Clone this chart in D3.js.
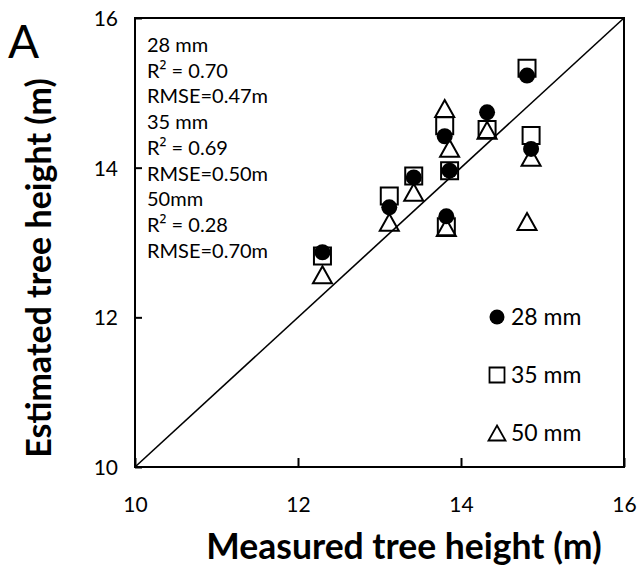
<!DOCTYPE html>
<html>
<head>
<meta charset="utf-8">
<script src="https://cdn.jsdelivr.net/npm/d3@7"></script>
<style>
  html, body { margin: 0; padding: 0; background: #fff; }
  svg { display: block; }
  text { font-family: Lato, "Open Sans", sans-serif; fill: #000; }
</style>
</head>
<body>
<svg id="chart" width="643" height="567"></svg>
<script>
// Measured tree height per tree (m)
const measured = [12.30, 13.12, 13.42, 13.80, 13.86, 13.82, 14.32, 14.81, 14.86];
// Estimated heights for each focal length (m)
const est28 = [12.87, 13.47, 13.87, 14.42, 13.96, 13.35, 14.74, 15.23, 14.25];
const est35 = [12.82, 13.62, 13.89, 14.56, 13.96, 13.21, 14.51, 15.33, 14.43];
const est50 = [12.57, 13.27, 13.67, 14.79, 14.26, 13.20, 14.50, 13.28, 14.14];
const seriesNames = ["28 mm", "35 mm", "50 mm"];
const tickValues = [10, 12, 14, 16];
const statLines = ["28 mm", "R² = 0.70", "RMSE=0.47m", "35 mm", "R² = 0.69", "RMSE=0.50m", "50mm", "R² = 0.28", "RMSE=0.70m"];

const svg = d3.select("#chart");
const x = d3.scaleLinear().domain([10, 16]).range([135, 624]);
const y = d3.scaleLinear().domain([10, 16]).range([467, 18]);

// marker shapes centred on their bounding box
function squarePath(s) { const h = s / 2; return `M${-h},${-h}H${h}V${h}H${-h}Z`; }
function trianglePath(w, h) { return `M0,${-h / 2}L${w / 2},${h / 2}L${-w / 2},${h / 2}Z`; }

// axes with inward ticks
const xAxis = svg.append("g").attr("transform", `translate(0,${y(10)})`)
  .call(d3.axisBottom(x).tickValues(tickValues).tickSizeInner(-9).tickSizeOuter(0).tickPadding(30).tickFormat(d3.format("d")));
const yAxis = svg.append("g").attr("transform", `translate(${x(10)},0)`)
  .call(d3.axisLeft(y).tickValues(tickValues).tickSizeInner(-7).tickSizeOuter(0).tickPadding(17).tickFormat(d3.format("d")));
[xAxis, yAxis].forEach(g => {
  g.select(".domain").remove();
  g.selectAll(".tick line").attr("stroke", "#000").attr("stroke-width", 2);
  g.selectAll(".tick text").attr("font-size", 21).attr("font-family", "Lato, sans-serif").attr("fill", "#000");
});
yAxis.selectAll(".tick text").attr("dy", "0.35em");

// plot frame
svg.append("rect")
  .attr("x", x(10)).attr("y", y(16))
  .attr("width", x(16) - x(10)).attr("height", y(10) - y(16))
  .attr("fill", "none").attr("stroke", "#000").attr("stroke-width", 2);

// 1:1 line
svg.append("line")
  .attr("x1", x(10)).attr("y1", y(10)).attr("x2", x(16)).attr("y2", y(16))
  .attr("stroke", "#000").attr("stroke-width", 1.6);

const pts = (vals) => vals.map((v, i) => ({ mx: measured[i], ev: v }));

// 50 mm triangles
svg.append("g").selectAll("path").data(pts(est50)).join("path")
  .attr("d", trianglePath(19, 17))
  .attr("transform", d => `translate(${x(d.mx)},${y(d.ev)})`)
  .attr("fill", "none").attr("stroke", "#000").attr("stroke-width", 2);

// 35 mm squares
svg.append("g").selectAll("path").data(pts(est35)).join("path")
  .attr("d", squarePath(17))
  .attr("transform", d => `translate(${x(d.mx)},${y(d.ev)})`)
  .attr("fill", "none").attr("stroke", "#000").attr("stroke-width", 2);

// 28 mm filled circles
svg.append("g").selectAll("circle").data(pts(est28)).join("circle")
  .attr("cx", d => x(d.mx)).attr("cy", d => y(d.ev)).attr("r", 8)
  .attr("fill", "#000");

// statistics block; the squared sign uses a face with a full-size superscript glyph
const stat = svg.append("g").selectAll("text").data(statLines).join("text")
  .attr("x", 147).attr("y", (d, i) => 52 + i * 25.7)
  .attr("font-size", 20);
stat.each(function (d) {
  const t = d3.select(this);
  const k = d.indexOf("²");
  if (k < 0) { t.text(d); return; }
  t.append("tspan").text(d.slice(0, k));
  t.append("tspan").attr("font-family", "'Open Sans', sans-serif").attr("font-size", 20).text("²");
  t.append("tspan").text(d.slice(k + 1));
});

// legend
const legend = svg.append("g").selectAll("g").data(seriesNames).join("g")
  .attr("transform", (d, i) => `translate(497,${317 + i * 58})`);
legend.each(function (d, i) {
  const g = d3.select(this);
  if (i === 0) g.append("circle").attr("r", 7.5).attr("fill", "#000");
  else if (i === 1) g.append("path").attr("d", squarePath(15)).attr("fill", "none").attr("stroke", "#000").attr("stroke-width", 1.8);
  else g.append("path").attr("d", trianglePath(17, 15)).attr("fill", "none").attr("stroke", "#000").attr("stroke-width", 1.8);
  g.append("text").attr("x", 14).attr("y", 8).attr("font-size", 23).text(d);
});

// axis titles and panel letter
svg.append("text").attr("x", 404).attr("y", 559).attr("text-anchor", "middle")
  .attr("font-size", 35.5).attr("font-weight", "bold").text("Measured tree height (m)");
svg.append("text").attr("transform", "translate(51,268) rotate(-90)").attr("text-anchor", "middle")
  .attr("font-size", 34).attr("font-weight", "bold").text("Estimated tree height (m)");
svg.append("text").attr("x", 8).attr("y", 58).attr("font-size", 46).text("A");
</script>
</body>
</html>
